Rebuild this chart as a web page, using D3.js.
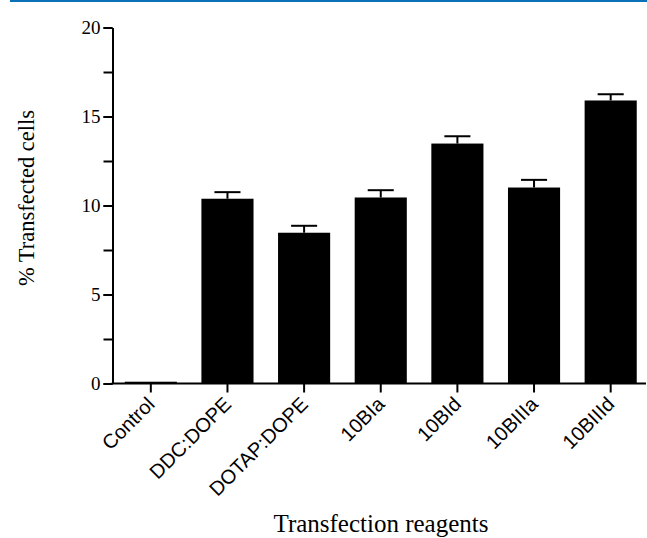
<!DOCTYPE html>
<html>
<head>
<meta charset="utf-8">
<script src="https://cdn.jsdelivr.net/npm/d3@7"></script>
<style>
  body { margin: 0; background: #fff; }
  svg { display: block; }
</style>
</head>
<body>
<div id="chart"></div>
<script>
// Chart data
let reagents = ["Control", "DDC:DOPE", "DOTAP:DOPE", "10BIa", "10BId", "10BIIIa", "10BIIId"];
let transfected = [0.1, 10.38, 8.47, 10.45, 13.48, 11.01, 15.9];
let errors = [0, 0.37, 0.39, 0.41, 0.41, 0.43, 0.35];
let yTicks = [0, 5, 10, 15, 20];

let svgWidth = 647;
let svgHeight = 538;
let serif = "'Liberation Serif', 'Times New Roman', serif";

let svg = d3.select("#chart")
  .append("svg")
  .attr("width", svgWidth)
  .attr("height", svgHeight);

// blue rule at the top of the figure
svg.append("line")
  .attr("x1", 10).attr("x2", svgWidth)
  .attr("y1", 1).attr("y2", 1)
  .attr("stroke", "#0a70b8")
  .attr("stroke-width", 2);

let axisLeft = 112.5;
let axisBottom = 383.5;

// scales
let x = d3.scaleBand()
  .domain(reagents)
  .range([112.5, 649])
  .paddingInner(0.32)
  .paddingOuter(0.16);

let y = d3.scaleLinear()
  .domain([0, 20])
  .range([axisBottom, 27.5]);

// bars
svg.selectAll("rect.bar")
  .data(reagents)
  .enter()
  .append("rect")
  .attr("class", "bar")
  .attr("x", d => x(d))
  .attr("width", x.bandwidth())
  .attr("y", (d, i) => y(transfected[i]))
  .attr("height", (d, i) => axisBottom - y(transfected[i]))
  .attr("fill", "#000");

// error bars (upper only)
let errGroup = svg.append("g");
reagents.forEach((d, i) => {
  if (!errors[i]) return;
  let cx = x(d) + x.bandwidth() / 2;
  let top = y(transfected[i] + errors[i]);
  errGroup.append("line")
    .attr("x1", cx).attr("x2", cx)
    .attr("y1", y(transfected[i])).attr("y2", top)
    .attr("stroke", "#000").attr("stroke-width", 2);
  errGroup.append("line")
    .attr("x1", cx - x.bandwidth() / 4).attr("x2", cx + x.bandwidth() / 4)
    .attr("y1", top).attr("y2", top)
    .attr("stroke", "#000").attr("stroke-width", 2);
});

// y axis with minor ticks
let yMinor = d3.range(0, 20.01, 2.5);
svg.append("g")
  .attr("transform", `translate(${axisLeft},0)`)
  .call(d3.axisLeft(y).tickValues(yMinor).tickSize(9).tickFormat(""))
  .call(g => g.select(".domain").remove())
  .call(g => g.selectAll("line").attr("stroke-width", 2));

let yAxis = svg.append("g")
  .attr("transform", `translate(${axisLeft},0)`)
  .call(d3.axisLeft(y).tickValues(yTicks).tickSize(9).tickSizeOuter(0).tickPadding(3));
yAxis.select(".domain").attr("stroke-width", 2);
yAxis.selectAll("line").attr("stroke-width", 2);
yAxis.selectAll("text")
  .attr("fill", "#000")
  .style("font-family", serif)
  .style("font-size", "19px");

// x axis
let xAxis = svg.append("g")
  .attr("transform", `translate(0,${axisBottom})`)
  .call(d3.axisBottom(x).tickSize(9).tickSizeOuter(0).tickFormat(""));
xAxis.select(".domain").remove();
xAxis.selectAll("line").attr("stroke-width", 2);
svg.append("line")
  .attr("x1", axisLeft - 1).attr("x2", 646)
  .attr("y1", axisBottom).attr("y2", axisBottom)
  .attr("stroke", "#000").attr("stroke-width", 2);

// rotated category labels
svg.append("g").selectAll("text")
  .data(reagents)
  .enter()
  .append("text")
  .attr("transform", d => `translate(${x(d) + x.bandwidth() / 2 + 5},${axisBottom + 22}) rotate(-45)`)
  .attr("text-anchor", "end")
  .style("font-family", "'Liberation Sans', Arial, sans-serif")
  .style("font-size", "20px")
  .text(d => d);

// axis titles
svg.append("text")
  .attr("x", 381)
  .attr("y", 532)
  .attr("text-anchor", "middle")
  .style("font-family", serif)
  .style("font-size", "25px")
  .text("Transfection reagents");

svg.append("text")
  .attr("transform", "translate(34,198) rotate(-90)")
  .attr("text-anchor", "middle")
  .style("font-family", serif)
  .style("font-size", "22.5px")
  .text("% Transfected cells");
</script>
</body>
</html>
